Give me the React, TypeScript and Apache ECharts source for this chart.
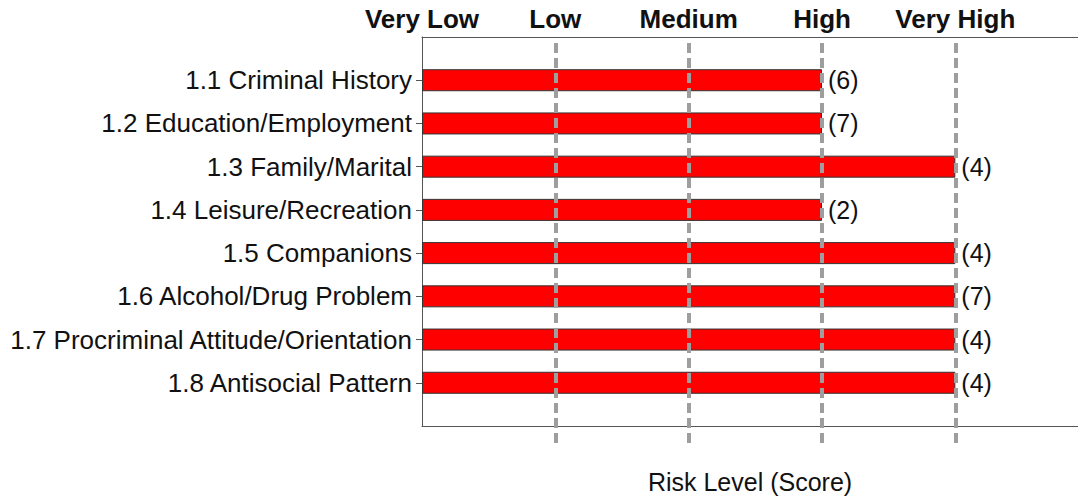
import React, { useEffect, useRef } from "react";
import * as echarts from "echarts";

const categories = [
  "1.1 Criminal History",
  "1.2 Education/Employment",
  "1.3 Family/Marital",
  "1.4 Leisure/Recreation",
  "1.5 Companions",
  "1.6 Alcohol/Drug Problem",
  "1.7 Procriminal Attitude/Orientation",
  "1.8 Antisocial Pattern",
];
const riskLevels = [3, 3, 4, 3, 4, 4, 4, 4];
const scores = [6, 7, 4, 2, 4, 7, 4, 4];
const levelNames = ["Very Low", "Low", "Medium", "High", "Very High"];

const FONT = "'Liberation Sans', Arial, sans-serif";
const XMAX = 4.92;

export default function App() {
  const ref = useRef<HTMLDivElement>(null);
  useEffect(() => {
    if (!ref.current) return;
    const chart = echarts.init(ref.current, undefined, { renderer: "svg" });
    const cats = ["", ...categories, " "];
    const last = cats.length - 1;
    const data = ["-", ...riskLevels, "-"];
    chart.setOption({
      animation: false,
      backgroundColor: "#fff",
      textStyle: { fontFamily: FONT },
      grid: [
        { left: 422, right: 0, top: 37, bottom: 70 },
        { left: 422, right: 0, top: 43, bottom: 54 },
      ],
      xAxis: [
        {
          type: "value",
          gridIndex: 0,
          position: "bottom",
          min: 0,
          max: XMAX,
          interval: 1,
          axisLine: { show: true, lineStyle: { color: "#555", width: 1 } },
          axisTick: { show: false },
          axisLabel: { show: false },
          splitLine: { show: false },
          name: "Risk Level (Score)",
          nameLocation: "middle",
          nameGap: 43,
          nameTextStyle: { fontSize: 25, color: "#111", fontFamily: FONT },
        },
        {
          type: "value",
          gridIndex: 0,
          position: "top",
          min: 0,
          max: XMAX,
          interval: 1,
          axisLine: { show: true, lineStyle: { color: "#555", width: 1 } },
          axisTick: { show: false },
          axisLabel: {
            show: true,
            margin: 5,
            showMaxLabel: false,
            fontSize: 26,
            fontWeight: "bold",
            color: "#111",
            fontFamily: FONT,
            formatter: (v: number) => levelNames[Math.round(v)] ?? "",
          },
          splitLine: { show: false },
        },
        {
          type: "value",
          gridIndex: 1,
          min: 0,
          max: XMAX,
          interval: 1,
          z: 10,
          axisLine: { show: false },
          axisTick: { show: false },
          axisLabel: { show: false },
          splitLine: {
            show: true,
            showMinLine: false,
            showMaxLine: false,
            lineStyle: { color: "#9e9e9e", width: 4, type: [10, 5] },
          },
        },
      ],
      yAxis: [
        {
          type: "category",
          gridIndex: 0,
          data: cats,
          inverse: true,
          boundaryGap: false,
          axisLine: { show: true, lineStyle: { color: "#555", width: 1 } },
          axisTick: {
            show: true,
            length: 6,
            lineStyle: { color: "#555" },
            interval: (i: number) => i !== 0 && i !== last,
          },
          axisLabel: {
            margin: 10,
            fontSize: 26,
            color: "#111",
            fontFamily: FONT,
            interval: 0,
            padding: [5, 0, 0, 0],
          },
          splitLine: { show: false },
        },
        {
          type: "value",
          gridIndex: 1,
          show: false,
        },
      ],
      series: [
        {
          type: "bar",
          xAxisIndex: 0,
          yAxisIndex: 0,
          data,
          barWidth: 22,
          itemStyle: { color: "#ff0000", borderColor: "#333", borderWidth: 1 },
          label: {
            show: true,
            position: "right",
            distance: 6,
            fontSize: 25,
            color: "#111",
            fontFamily: FONT,
            padding: [4, 0, 0, 0],
            formatter: (p: any) => `(${scores[p.dataIndex - 1]})`,
          },
        },
      ],
    });
    return () => chart.dispose();
  }, []);
  return (
    <div
      ref={ref}
      style={{ position: "absolute", left: 0, top: 0, width: 1078, height: 499 }}
    />
  );
}
